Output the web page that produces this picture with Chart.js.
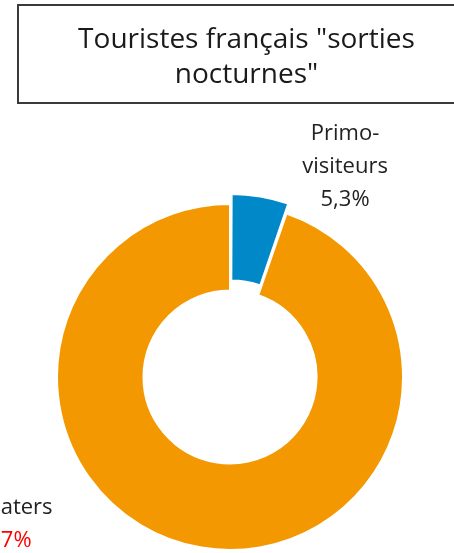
<!DOCTYPE html>
<html>
<head>
<meta charset="utf-8">
<script src="https://cdn.jsdelivr.net/npm/chart.js@4/dist/chart.umd.min.js"></script>
<style>
  html, body { margin: 0; padding: 0; background: #fff; overflow: hidden; }
  #wrap { position: relative; width: 454px; height: 553px; }
  #title {
    position: absolute; left: 17px; top: 4px; width: 455px; height: 82px;
    border: 2px solid #3a3a3a; box-sizing: content-box;
    font-family: "Open Sans", sans-serif; font-size: 28px; color: #1a1a1a;
    text-align: center; line-height: 35px; padding-top: 14px;
  }
  canvas { position: absolute; left: 0; top: 0; }
</style>
</head>
<body>
<div id="wrap">
  <canvas id="donutChart" width="454" height="553"></canvas>
  <div id="title">Touristes français "sorties<br>nocturnes"</div>
</div>
<script>
const categories = ['Primo-visiteurs', 'Repeaters'];
const labelLines = [['Primo-', 'visiteurs'], ['Repeaters']];
const values = [5.3, 94.7];
const colors = ['#0088c9', '#f39800'];

const ctx = document.getElementById('donutChart').getContext('2d');

// label placement relative to chart centre, in units of the outer radius
const labelSpots = [
  { dx: 0.665, dy: -1.405, valueColor: '#222' },
  { dx: -1.325, dy: 0.757, valueColor: '#ff0000' },
];

const sliceLabels = {
  id: 'sliceLabels',
  afterDatasetsDraw(chart) {
    const meta = chart.getDatasetMeta(0);
    const c = chart.ctx;
    c.save();
    c.font = '22px "Open Sans", sans-serif';
    c.textAlign = 'center';
    c.textBaseline = 'middle';
    meta.data.forEach((arc, i) => {
      const r = arc.outerRadius;
      const spot = labelSpots[i];
      const x = arc.x + spot.dx * r;
      let y = arc.y + spot.dy * r;
      labelLines[i].forEach(line => {
        c.fillStyle = '#222';
        c.fillText(line, x, y);
        y += 33;
      });
      c.fillStyle = spot.valueColor;
      c.fillText(values[i].toFixed(1).replace('.', ',') + '%', x, y);
    });
    c.restore();
  }
};

const donutChart = new Chart(ctx, {
  type: 'doughnut',
  data: {
    labels: categories,
    datasets: [{
      data: values,
      backgroundColor: colors,
      borderColor: '#ffffff',
      borderWidth: 2,
      offset: [24, 0],
    }],
  },
  options: {
    responsive: false,
    animation: false,
    radius: 173,
    cutout: '50%',
    layout: { padding: { left: 10, right: 4, top: 207, bottom: 6 } },
    plugins: {
      legend: { display: false },
      tooltip: { enabled: false },
    },
  },
  plugins: [sliceLabels],
});
</script>
</body>
</html>
